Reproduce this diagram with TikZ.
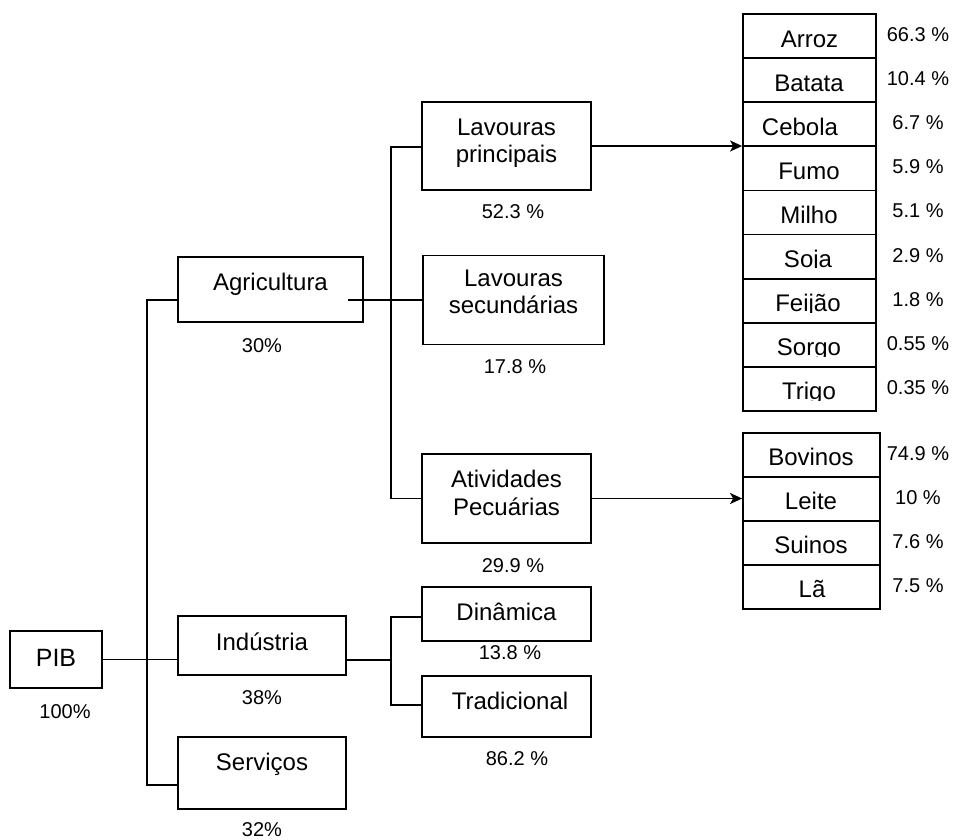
\documentclass[tikz,border=0pt]{standalone}
\usepackage{fontspec}
\setmainfont{Liberation Sans}
\usetikzlibrary{arrows.meta,calc}

\tikzset{
  box/.style={draw, line width=1.8pt, inner sep=0pt, minimum width=#1},
  cell/.style={draw, line width=1.8pt, inner sep=0pt},
  wire/.style={line width=1.8pt},
  arr/.style={line width=1.8pt, -{Stealth[length=12pt,width=11pt,inset=3pt]}},
  txt/.style={font=\fontsize{24}{28}\selectfont, anchor=base, inner sep=0pt},
  pct/.style={font=\fontsize{20}{24}\selectfont, anchor=base, inner sep=0pt},
}

\begin{document}
\begin{tikzpicture}[x=1pt, y=-1pt]
\useasboundingbox (0,0) rectangle (953,839);

% --- first level: PIB and its three sectors
\node[box=92pt, minimum height=57pt] (pib) at (56,659.5) {};
\node[txt, font=\fontsize{25}{28}\selectfont] (pib-t) at (56,666) {PIB};
\node[pct] (pib-p) at (65,718) {100\%};

\node[box=185pt, minimum height=65pt] (agr) at (270.5,289.5) {};
\node[txt] (agr-t) at (270.5,290) {Agricultura};
\node[pct] (agr-p) at (262,352) {30\%};

\node[box=168pt, minimum height=59pt] (ind) at (262,645.5) {};
\node[txt] (ind-t) at (262,650) {Indústria};
\node[pct] (ind-p) at (262,704) {38\%};

\node[box=168pt, minimum height=72pt] (ser) at (262,773) {};
\node[txt] (ser-t) at (262,770) {Serviços};
\node[pct] (ser-p) at (262,836) {32\%};

% --- agriculture branches
\node[box=169pt, minimum height=88pt] (lp) at (506.5,146) {};
\node[txt] (lp-t1) at (506.5,135) {Lavouras};
\node[txt] (lp-t2) at (506.5,162) {principais};
\node[pct] (lp-p) at (513,218) {52.3 \%};

\node[box=181pt, minimum height=89pt] (ls) at (513.5,300) {};
\node[txt] (ls-t1) at (513.5,286) {Lavouras};
\node[txt] (ls-t2) at (513.5,313) {secundárias};
\node[pct] (ls-p) at (515,373) {17.8 \%};

\node[box=169pt, minimum height=89pt] (ap) at (506.5,498.5) {};
\node[txt] (ap-t1) at (506.5,487) {Atividades};
\node[txt] (ap-t2) at (506.5,515) {Pecuárias};
\node[pct] (ap-p) at (513,572) {29.9 \%};

% --- industry branches
\node[box=169pt, minimum height=54pt] (din) at (506.5,614) {};
\node[txt] (din-t) at (506.5,620) {Dinâmica};
\node[pct] (din-p) at (510,659) {13.8 \%};

\node[box=169pt, minimum height=61pt] (tra) at (506.5,706.5) {};
\node[txt] (tra-t) at (510,709) {Tradicional};
\node[pct] (tra-p) at (517,765) {86.2 \%};

% --- crops table (labels cut at the cell's text line)
\foreach \i/\name/\tx/\pc in {1/Arroz/809.5/66.3, 2/Batata/809/10.4,
    3/Cebola/800/6.7, 4/Fumo/809/5.9, 5/Milho/809/5.1, 6/Soja/808/2.9,
    7/Feijão/808/1.8, 8/Sorgo/809/0.55, 9/Trigo/809/0.35}{
  \pgfmathsetmacro\ctop{14+44.1*(\i-1)}
  \node[cell, minimum width=133pt, minimum height=44.1pt] (c\i) at (809.5,\ctop+22.05) {};
  \begin{scope}
    \clip (743,\ctop) rectangle (876,\ctop+33.4);
    \node[txt] (c\i-t) at (\tx,\ctop+33) {\name};
  \end{scope}
  \node[pct] (c\i-p) at (918,\ctop+27.5) {\pc\ \%};
}

% --- livestock table
\foreach \i/\name/\tx/\pc in {1/Bovinos/811/74.9, 2/Leite/811/10,
    3/Suinos/811/7.6, 4/Lã/812/7.5}{
  \pgfmathsetmacro\ctop{433+44*(\i-1)}
  \node[cell, minimum width=137pt, minimum height=44pt] (l\i) at (811.5,\ctop+22) {};
  \node[txt] (l\i-t) at (\tx,\ctop+32.5) {\name};
  \node[pct] (l\i-p) at (918,\ctop+27.5) {\pc\ \%};
}

% --- connectors
\draw[wire] (pib.east) -- (pib.east -| ind.west);
\draw[wire] ([yshift=-10.5pt]agr.west) -| ([xshift=-30pt,yshift=-12pt]ser.west)
            -- ([yshift=-12pt]ser.west);

\coordinate (agrout) at ([xshift=-16pt,yshift=-10.5pt]agr.east);
\draw[wire] (agrout) -- (agrout -| ls.west);
\draw[wire] ([yshift=-1pt]lp.west) -| ([xshift=-30pt]ap.west) -- (ap.west);

\draw[arr] (lp.east) -- (lp.east -| c3.south west);
\draw[arr] (ap.east) -- (ap.east -| l2.west);

\coordinate (indout) at ([yshift=-14.5pt]ind.east);
\coordinate (indfork) at ($(indout -| din.west)+(-30,0)$);
\draw[wire] (indout) -- (indfork);
\draw[wire] ([yshift=-3pt]din.west) -| (indfork) |- ([yshift=1.5pt]tra.west);
\end{tikzpicture}
\end{document}
